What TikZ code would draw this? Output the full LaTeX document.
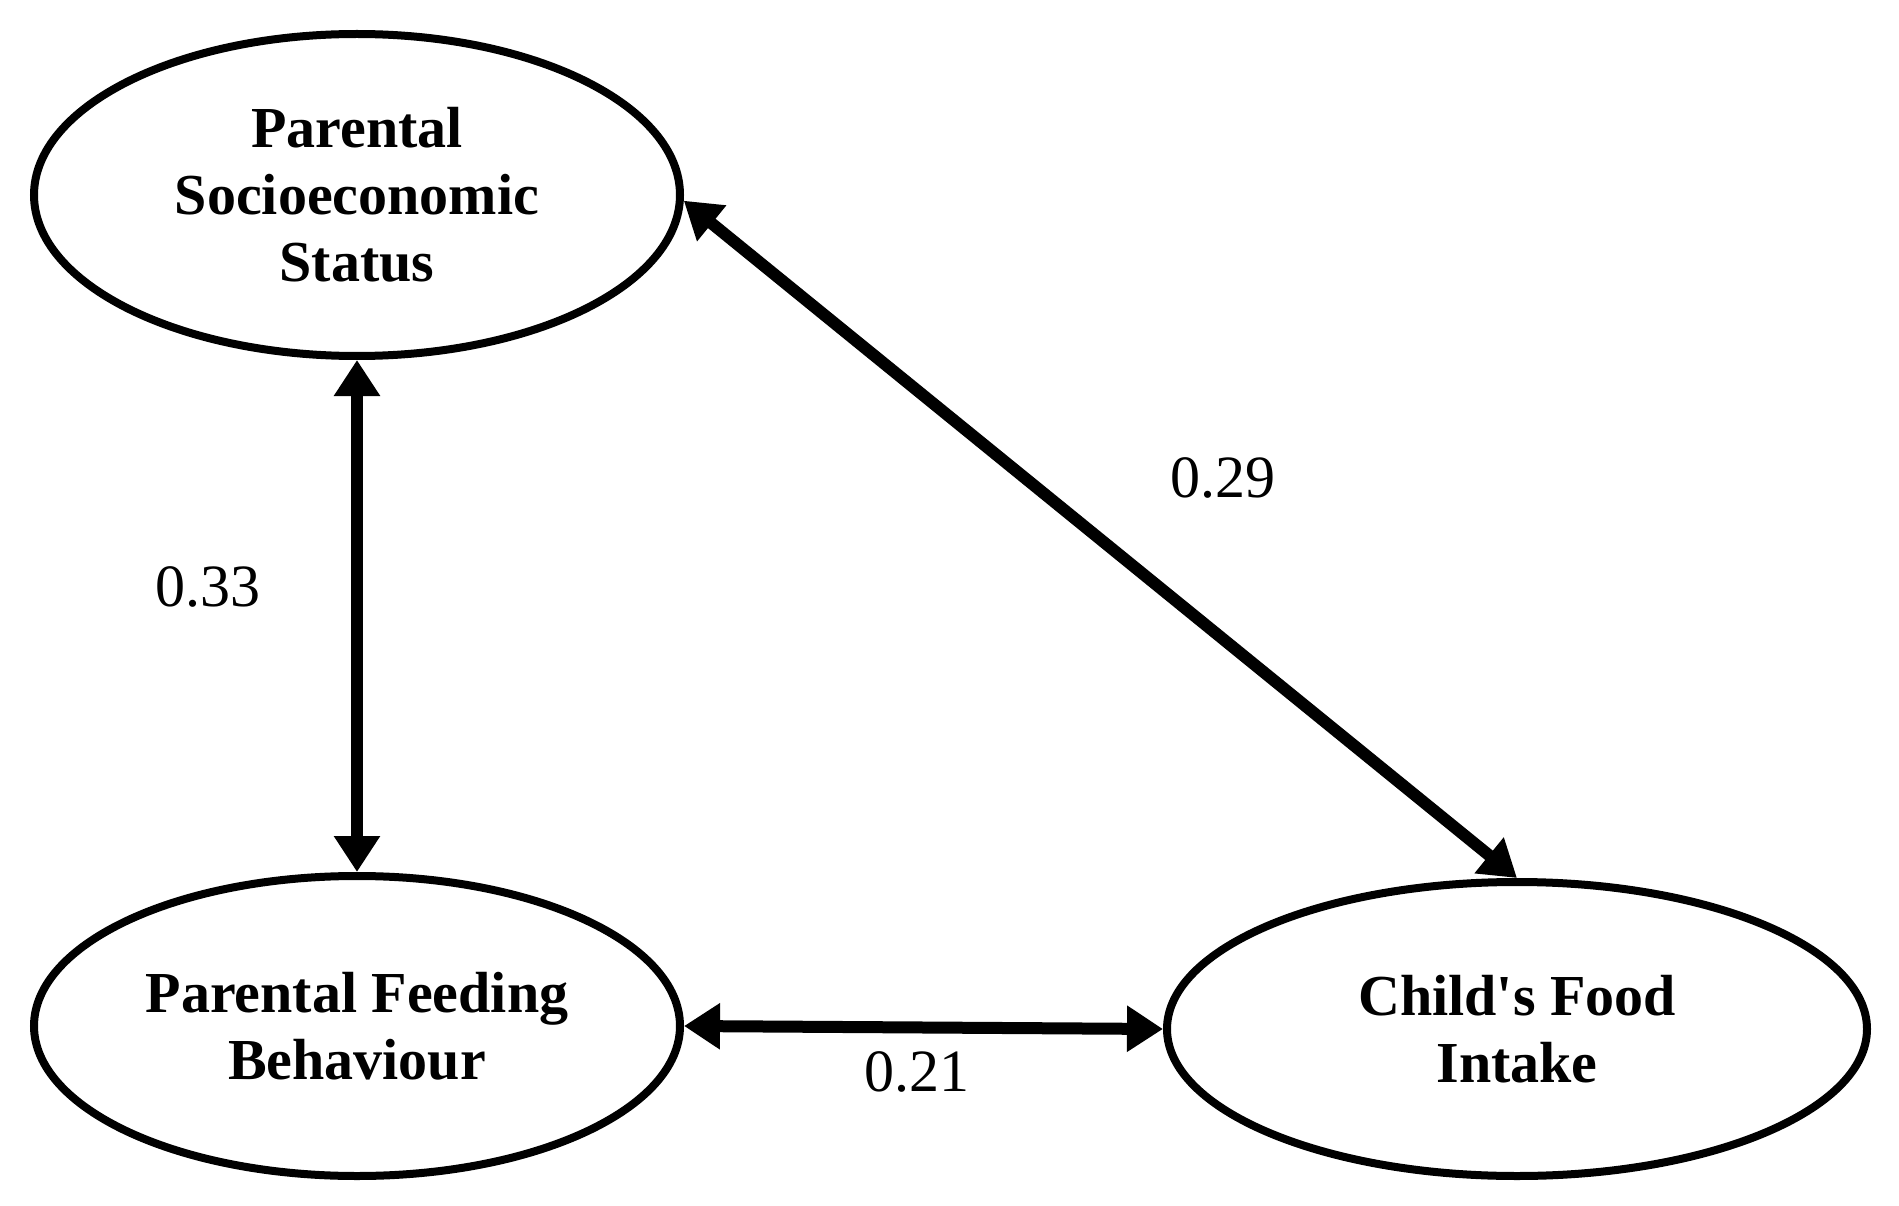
\documentclass[tikz,border=0pt]{standalone}
\usepackage{fontspec}
\setmainfont{Liberation Serif}
\usetikzlibrary{shapes.geometric,arrows.meta}
\begin{document}
\begin{tikzpicture}[x=1pt,y=-1pt,
  latent/.style={ellipse,draw=black,line width=8pt,inner sep=0pt,align=center,
    font=\fontsize{58}{67}\selectfont\bfseries},
  cov/.style={line width=12pt,{Triangle[length=36pt,width=44pt]}-{Triangle[length=36pt,width=44pt]}},
  lbl/.style={font=\fontsize{60}{70}\selectfont}]
\useasboundingbox (0,0) rectangle (1899,1206);
\node[latent,minimum width=646pt,minimum height=322pt] (ses) at (357,195) {Parental\\Socioeconomic\\Status};
\node[latent,minimum width=646pt,minimum height=300pt] (pfb) at (357,1026) {Parental Feeding\\Behaviour};
\node[latent,minimum width=700pt,minimum height=294pt] (cfi) at (1517,1029) {Child\textquotesingle s Food\\Intake};
\draw[cov] (ses.south) -- (pfb.north);
\draw[cov] (pfb.east) -- (cfi.west);
\draw[cov] (ses.-1) -- (cfi.north);
\node[lbl] (l33) at (208,587) {0.33};
\node[lbl] (l29) at (1223,478) {0.29};
\node[lbl] (l21) at (917,1072) {0.21};
\end{tikzpicture}
\end{document}
